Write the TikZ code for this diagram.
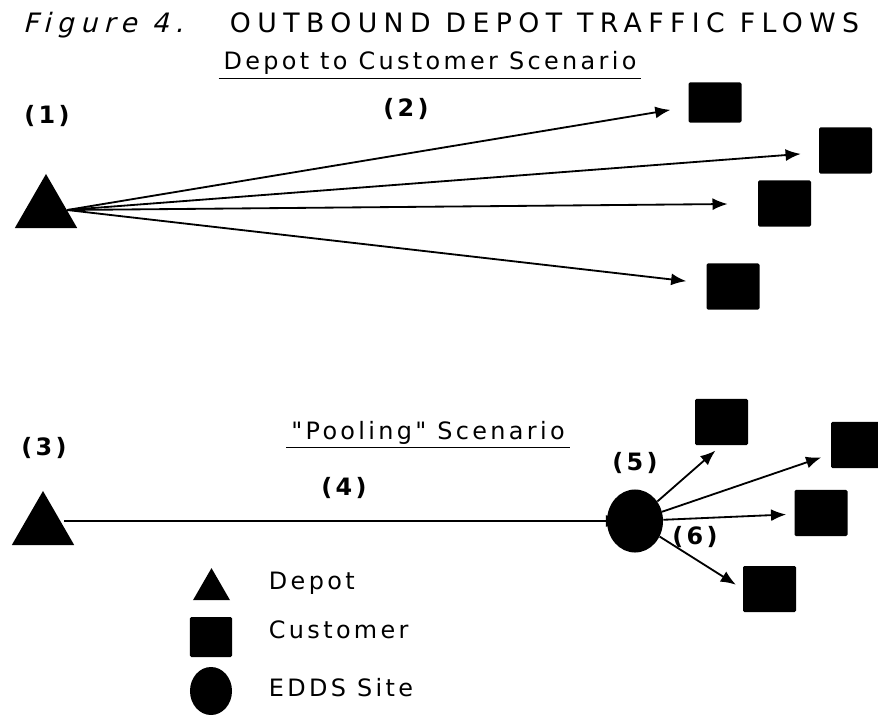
\documentclass[tikz,border=0pt]{standalone}
\usepackage{fontspec}
\setmainfont{DejaVu Sans}[LetterSpace=14, ItalicFont=DejaVu Sans, ItalicFeatures={FakeSlant=0.25}]
\newfontfamily\plotfont{DejaVu Sans}[LetterSpace=14]
\usetikzlibrary{shapes.geometric,arrows.meta}

\begin{document}
\begin{tikzpicture}[x=0.025cm, y=-0.025cm,
    every node/.style={font=\fontsize{17}{20}\selectfont},
    depot/.style={regular polygon, regular polygon sides=3, fill=black, inner sep=0pt, minimum size=1.8cm},
    customer/.style={rectangle, fill=black, inner sep=0pt, rounded corners=1pt, minimum width=1.325cm, minimum height=1.15cm},
    site/.style={ellipse, fill=black, inner sep=0pt, minimum width=1.4cm, minimum height=1.575cm},
    flow/.style={-{Latex[length=0.38cm,width=0.3cm]}, line width=1.3pt},
    num/.style={font=\fontsize{17}{20}\selectfont\bfseries},
    heading/.style={anchor=base}]
    \useasboundingbox (0,0) rectangle (878,715);

    \node[anchor=base west, font=\fontsize{19}{22}\selectfont\addfontfeature{LetterSpace=24}] (title) at (18,33)
        {\textit{Figure 4.}\hspace{1.5em}OUTBOUND DEPOT TRAFFIC FLOWS};

    % direct deliveries
    \node[heading] (direct) at (430,70) {Depot to Customer Scenario};
    \draw[line width=1.3pt] ([yshift=-6pt]direct.base west) -- ([yshift=-6pt]direct.base east);
    \node[depot] (depotA) at (46,210) {};
    \node[num] (n1) at (47,116) {(1)};
    \node[num] (n2) at (406,109) {(2)};
    \node[customer, minimum height=1cm] (custA) at (715,102.5) {};
    \node[customer] (custB) at (845.5,150.5) {};
    \node[customer] (custC) at (784.5,203.5) {};
    \node[customer] (custD) at (733,286.5) {};
    \draw[flow, shorten >=0.45cm] (depotA.east) -- (custA);
    \draw[flow, shorten >=0.45cm] (depotA.east) -- (custB);
    \draw[flow, shorten >=0.75cm] (depotA.east) -- (custC);
    \draw[flow, shorten >=0.5cm] (depotA.east) -- (custD);

    % pooled deliveries
    \node[heading, font=\fontsize{17}{20}\selectfont\plotfont] (pooled) at (428,439) {"Pooling" Scenario};
    \draw[line width=1.3pt] ([yshift=-6pt]pooled.base west) -- ([yshift=-6pt]pooled.base east);
    \node[depot] (depotB) at (43,527) {};
    \node[site] (pool) at (635,521) {};
    \node[num] (n3) at (44,448) {(3)};
    \node[num] (n4) at (344,488) {(4)};
    \node[num] (n5) at (635,463) {(5)};
    \node[num] (n6) at (695,537) {(6)};
    \node[customer] (cust1) at (721.5,422) {};
    \node[customer] (cust2) at (857.5,445) {};
    \node[customer] (cust3) at (821,513) {};
    \node[customer] (cust4) at (769.5,589) {};
    \draw[flow, shorten >=-0.36cm] (depotB.east |- pool) -- (pool);
    \draw[flow, shorten >=0.2cm] (pool) -- (cust1.south);
    \draw[flow, shorten >=0.25cm] (pool) -- (cust2);
    \draw[flow, shorten >=0.2cm] (pool) -- (cust3);
    \draw[flow, shorten >=0.2cm] (pool) -- (cust4.west);

    % key
    \node[depot, minimum size=1.07cm] (keyDepot) at (211.5,589.5) {};
    \node[customer, minimum width=1.05cm, minimum height=1cm] (keyCust) at (211,637) {};
    \node[site, minimum width=1.05cm, minimum height=1.2cm] (keySite) at (211,691) {};
    \node[anchor=west] (tDepot) at (264,583) {Depot};
    \node[anchor=west] (tCust) at (264,630) {Customer};
    \node[anchor=west] (tSite) at (264,688) {EDDS Site};
\end{tikzpicture}
\end{document}
